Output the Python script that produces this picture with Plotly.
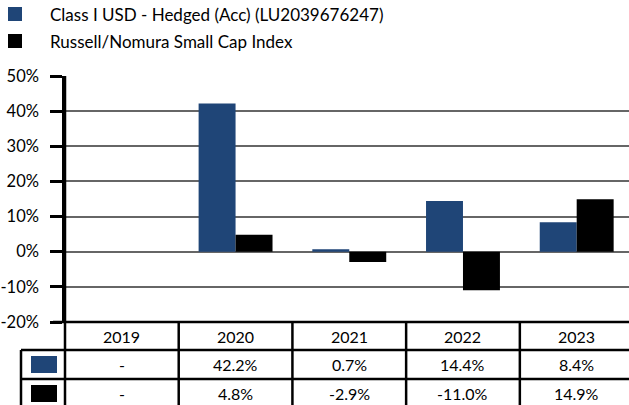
import plotly.graph_objects as go

years = ["2019", "2020", "2021", "2022", "2023"]
fund_name = "Class I USD - Hedged (Acc) (LU2039676247)"
index_name = "Russell/Nomura Small Cap Index"
fund_values = [None, 42.2, 0.7, 14.4, 8.4]
index_values = [None, 4.8, -2.9, -11.0, 14.9]
y_ticks = [-20, -10, 0, 10, 20, 30, 40, 50]

BLUE = "#1f4577"
BLACK = "#000000"
FONT = "Lato"
W, H = 629, 405
L, T = 65, 76
R, B = 0, H - 322
PW, PH = W - L - R, H - T - B


def px_x(p):
    return (p - L) / PW


def px_y(p):
    return (H - B - p) / PH


def fmt(v):
    return "-" if v is None else f"{v:.1f}%"


fig = go.Figure()
fig.add_trace(go.Bar(x=years, y=fund_values, name=fund_name, marker_color=BLUE, marker_line_width=0))
fig.add_trace(go.Bar(x=years, y=index_values, name=index_name, marker_color=BLACK, marker_line_width=0))

shapes = []
annotations = []
line = dict(color="black", width=2.5)

# legend
for i, (name, col) in enumerate([(fund_name, BLUE), (index_name, BLACK)]):
    y0 = 7 + i * 27
    shapes.append(dict(type="rect", xref="paper", yref="paper",
                       x0=px_x(8), x1=px_x(22), y0=px_y(y0), y1=px_y(y0 + 14),
                       fillcolor=col, line_width=0))
    annotations.append(dict(xref="paper", yref="paper", x=px_x(48), y=px_y(y0 + 7.5),
                            text=name, showarrow=False, xanchor="left", yanchor="middle",
                            font=dict(family=FONT, size=17, color="black")))

# table frame
y_top, y_h, y_r1, y_bot = 322, 350, 379, 420
shapes.append(dict(type="line", xref="paper", yref="paper", x0=px_x(53), x1=1.01,
                   y0=px_y(y_top), y1=px_y(y_top), line=line))
for yy in (y_h, y_r1):
    shapes.append(dict(type="line", xref="paper", yref="paper", x0=px_x(21), x1=1.01,
                       y0=px_y(yy), y1=px_y(yy), line=line))
shapes.append(dict(type="line", xref="paper", yref="paper", x0=px_x(21), x1=px_x(21),
                   y0=px_y(y_h), y1=px_y(y_bot), line=line))
shapes.append(dict(type="line", xref="paper", yref="paper", x0=0, x1=0,
                   y0=1, y1=px_y(y_bot), line=line))
for i in range(len(years) - 1):
    shapes.append(dict(type="line", xref="x", yref="paper", x0=i + 0.5, x1=i + 0.5,
                       y0=px_y(y_top), y1=px_y(y_bot), line=line))

# row markers
for (col, ya, yb) in [(BLUE, 356, 373), (BLACK, 385, 402)]:
    shapes.append(dict(type="rect", xref="paper", yref="paper",
                       x0=px_x(31), x1=px_x(57), y0=px_y(ya), y1=px_y(yb),
                       fillcolor=col, line_width=0))

tfont = dict(family=FONT, size=16, color="black")
for i, yr in enumerate(years):
    for text, yy in ((yr, 336), (fmt(fund_values[i]), 364.5), (fmt(index_values[i]), 393)):
        annotations.append(dict(xref="x", yref="paper", x=i, y=px_y(yy), text=text,
                                showarrow=False, xanchor="center", yanchor="middle", font=tfont))

fig.update_layout(
    width=W, height=H,
    margin=dict(l=L, r=R, t=T, b=B, pad=0, autoexpand=False),
    paper_bgcolor="white", plot_bgcolor="white",
    barmode="group", bargap=0.35, bargroupgap=0,
    showlegend=False,
    shapes=shapes, annotations=annotations,
    font=dict(family=FONT, size=16, color="black"),
)
fig.update_xaxes(type="category", range=[-0.5, 4.46], showticklabels=False, showgrid=False,
                 zeroline=False, showline=False, ticks="", automargin=False)
fig.update_yaxes(range=[-20, 50], tickvals=y_ticks, ticktext=[f"{v}%" for v in y_ticks],
                 showgrid=True, gridcolor="#666666", gridwidth=1.5,
                 zeroline=True, zerolinecolor="#666666", zerolinewidth=1.5,
                 showline=True, linecolor="black", linewidth=2.5,
                 ticks="outside", ticklen=12, tickwidth=2.5, tickcolor="black",
                 tickfont=dict(family=FONT, size=16.5, color="black"), ticklabelstandoff=8,
                 automargin=False)

fig.write_html("out.html", config={"displayModeBar": False},
               post_script="document.body.style.margin='0px';document.body.style.overflow='hidden';")
